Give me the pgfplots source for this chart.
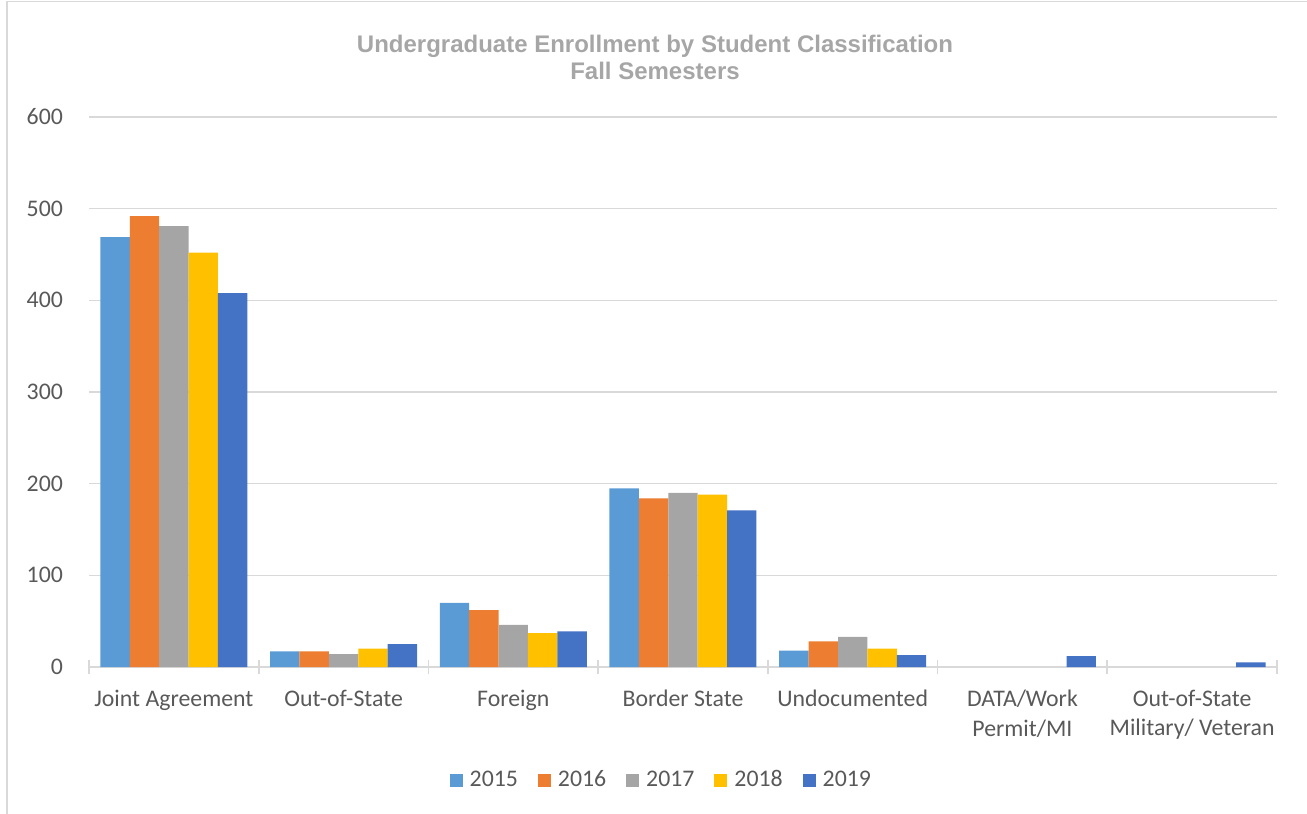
\documentclass[border=0pt]{standalone}
\usepackage{pgfplots}
\pgfplotsset{compat=1.18}
\usepackage{fontspec}
\setmainfont{Carlito}
\newfontfamily\titlefont{Liberation Sans}
\definecolor{c15}{HTML}{5B9BD5}
\definecolor{c16}{HTML}{ED7D31}
\definecolor{c17}{HTML}{A5A5A5}
\definecolor{c18}{HTML}{FFC000}
\definecolor{c19}{HTML}{4472C4}
\definecolor{txt}{HTML}{595959}
\definecolor{grd}{HTML}{D9D9D9}
\definecolor{ttl}{HTML}{A6A6A6}
\begin{document}
\begin{tikzpicture}
\useasboundingbox (0,0) rectangle (653.5pt,407pt);
\draw[grd, line width=0.6pt] (3.5pt,-1pt) -- (3.5pt,406.2pt) -- (660pt,406.2pt);
\begin{axis}[
  at={(44.5pt,73.5pt)}, anchor=south west,
  scale only axis, width=594pt, height=275pt,
  ybar=0pt, bar width=14.7pt,
  xmin=-0.5, xmax=6.5, ymin=0, ymax=600,
  xtick={0,...,6},
  xticklabels={Joint Agreement,Out-of-State,Foreign,Border State,Undocumented,{DATA/Work\\Permit/MI},{Out-of-State\\Military/ Veteran}},
  minor xtick={-0.5,0.5,...,6.5},
  ytick={0,100,...,600},
  major tick length=0pt,
  minor tick length=7pt,
  tick align=center,
  minor tick style={grd, line width=0.8pt},
  axis x line=bottom, axis y line=left,
  x axis line style={-, grd, line width=0.8pt},
  y axis line style={draw=none},
  ymajorgrids, grid style={grd, line width=0.6pt},
  tick label style={font={\fontsize{11.9}{14.8}\selectfont}, text=txt},
  xticklabel style={align=center, yshift=-8pt},
  yticklabel style={xshift=-9.5pt},
  /pgf/number format/assume math mode=true,
  legend columns=5,
  legend style={at={(0.4826,-0.2055)}, anchor=center, draw=none, fill=none,
    font={\fontsize{11.9}{13}\selectfont}, text=txt,
    /tikz/every even column/.append style={column sep=8pt}},
  legend image code/.code={\fill[#1] (0pt,-3.25pt) rectangle (6.5pt,3.25pt); \path (8pt,0pt);},
  every axis plot/.append style={draw=none},
]
\addplot[fill=c15] coordinates {(0,469) (1,17) (2,70) (3,195) (4,18)};
\addplot[fill=c16] coordinates {(0,492) (1,17) (2,62) (3,184) (4,28)};
\addplot[fill=c17] coordinates {(0,481) (1,14) (2,46) (3,190) (4,33)};
\addplot[fill=c18] coordinates {(0,452) (1,20) (2,37) (3,188) (4,20)};
\addplot[fill=c19] coordinates {(0,408) (1,25) (2,39) (3,171) (4,13) (5,12) (6,5)};
\legend{2015,2016,2017,2018,2019}
\end{axis}
\node[align=center, font={\titlefont\bfseries\fontsize{12}{13.5}\selectfont}, text=ttl] at (327.5pt,378.5pt) {Undergraduate Enrollment by Student Classification\\Fall Semesters};
\end{tikzpicture}
\end{document}
